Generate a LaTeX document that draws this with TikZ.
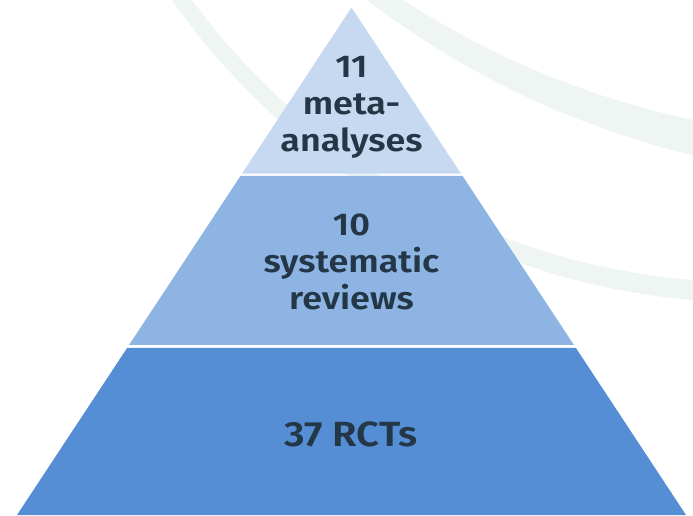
\documentclass[tikz,border=0pt]{standalone}
\usepackage{fontspec}
\setmainfont{Fira Sans SemiBold}[FakeStretch=1.14]
\usetikzlibrary{calc}
\definecolor{tierTop}{HTML}{C6D9F1}
\definecolor{tierMid}{HTML}{8EB4E3}
\definecolor{tierBase}{HTML}{558ED5}
\definecolor{labelInk}{HTML}{243746}
\definecolor{swoosh}{HTML}{EEF5F3}

\begin{document}
\begin{tikzpicture}[x=1pt,y=-1pt,
  tierlabel/.style={text=labelInk, align=center, inner sep=0pt,
    font=\fontsize{31.5}{37}\selectfont},
  swooshband/.style={fill=swoosh, even odd rule}]
\useasboundingbox (0,0) rectangle (693,515);

% faint background swooshes (crescents between two circles)
\begin{scope}
  \clip (0,0) rectangle (693,515);
  \fill[swooshband] (899.8,-700.3) circle[radius=880pt] (871.4,-721.5) circle[radius=860pt];
  \fill[swooshband] (754.6,-409.3) circle[radius=712pt] (749.7,-409.7) circle[radius=692pt];
\end{scope}

% pyramid outline
\coordinate (apex) at (351.5,7.5);
\coordinate (bl) at (17,515);
\coordinate (br) at (686,515);

% three tiers separated by thin white gaps
\fill[tierTop] (apex) -- ($(apex)!0.3271!(bl)$) -- ($(apex)!0.3271!(br)$) -- cycle;
\fill[tierMid] ($(apex)!0.3320!(bl)$) -- ($(apex)!0.6650!(bl)$)
  -- ($(apex)!0.6650!(br)$) -- ($(apex)!0.3320!(br)$) -- cycle;
\fill[tierBase] ($(apex)!0.6709!(bl)$) -- (bl) -- (br) -- ($(apex)!0.6709!(br)$) -- cycle;

% tier labels
\node[tierlabel, anchor=north] (meta) at (351.5,56) {11\\meta-\\analyses};
\node[tierlabel, anchor=north] (sysrev) at (351.5,214) {10\\systematic\\reviews};
\node[tierlabel, font=\fontsize{35}{42}\selectfont, anchor=base] (rcts) at (351,446) {37 RCTs};
\end{tikzpicture}
\end{document}
